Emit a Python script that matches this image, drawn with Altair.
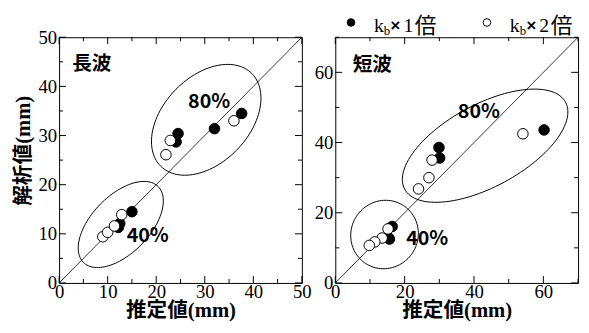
import altair as alt
import pandas as pd
import numpy as np

# ---------------- data ----------------
# Left panel (長波)
L_fill_x = [15.0, 12.5, 12.2, 24.5, 24.1, 32.0, 37.6]
L_fill_y = [14.5, 12.1, 11.3, 30.4, 28.7, 31.4, 34.5]
L_open_x = [9.0, 10.0, 11.4, 12.9, 22.0, 22.9, 36.0]
L_open_y = [9.4, 10.3, 11.6, 13.9, 26.1, 29.0, 33.0]

# Right panel (短波)
R_fill_x = [60.2, 29.9, 30.1, 16.4, 15.2, 15.6]
R_fill_y = [43.6, 38.6, 35.6, 16.1, 13.0, 12.5]
R_open_x = [54.1, 27.9, 27.0, 24.0, 15.2, 13.5, 11.4, 9.8]
R_open_y = [42.5, 35.0, 30.0, 26.8, 15.4, 12.8, 11.7, 10.7]

# ellipses: (cx, cy, semi-major, semi-minor, angle deg)
L_ellipses = [(12.7, 11.9, 10.9, 5.9, 45), (30.3, 33.2, 13.3, 8.8, 45)]
R_ellipses = [(14.2, 13.8, 9.9, 9.6, 45), (43.2, 39.1, 26.3, 11.75, 28)]

# annotation texts
L_labels = ["80%", "40%"]
L_label_x = [30.9, 18.25]
L_label_y = [36.8, 9.5]
R_labels = ["80%", "40%"]
R_label_x = [41.4, 26.5]
R_label_y = [48.6, 12.6]
L_name, L_name_x, L_name_y = "長波", 2.7, 44.5
R_name, R_name_x, R_name_y = "短波", 5.0, 62.2

# legend texts
LEG_K, LEG_SUB, LEG_TIMES = "k", "b", "×"
LEG_NUMS = ["1", "2"]
LEG_UNIT = "倍"

L_max, R_max = 50, 70
L_major = [0, 10, 20, 30, 40, 50]
L_minor = [5, 15, 25, 35, 45]
R_major = [0, 20, 40, 60]
R_minor = [10, 30, 50, 70]

W, H = 247, 250
SERIF = "Liberation Serif"
MIX = "Liberation Serif, Noto Sans CJK JP"
GOTH = "Noto Sans CJK JP"


def ellipse_df(params):
    rows = []
    t = np.linspace(0, 2 * np.pi, 121)
    for k, (cx, cy, a, b, ang) in enumerate(params):
        th = np.deg2rad(ang)
        xs = cx + a * np.cos(th) * np.cos(t) - b * np.sin(th) * np.sin(t)
        ys = cy + a * np.sin(th) * np.cos(t) + b * np.cos(th) * np.sin(t)
        for i, (x, y) in enumerate(zip(xs, ys)):
            rows.append({"id": k, "i": i, "x": x, "y": y})
    return pd.DataFrame(rows)


def panel(mx, major, minor, fx, fy, ox, oy, ells, labels, lx, ly,
          name, nx, ny, xtitle, ytitle, legend=False):
    xs = alt.Scale(domain=[0, mx], nice=False, zero=False)
    ys = alt.Scale(domain=[0, mx], nice=False, zero=False)
    axis_common = dict(labelFont=SERIF, labelFontSize=19, labelColor="black",
                       ticks=False, domain=False, grid=False, labelFlush=False,
                       labelOverlap=False, titleFont=MIX, titleFontSize=21,
                       titleFontWeight="bold", titleColor="black")
    xa = alt.Axis(values=major, title=xtitle, labelPadding=0, titlePadding=-2,
                  **axis_common)
    if ytitle is None:
        ya = alt.Axis(values=major, title=None, labelPadding=2.5, **axis_common)
    else:
        ya = alt.Axis(values=major, title=ytitle, labelPadding=2.5, titlePadding=5,
                      titleY=115, **axis_common)

    def X(f):
        return alt.X(f, scale=xs, axis=xa)

    def Y(f):
        return alt.Y(f, scale=ys, axis=ya)

    diag = alt.Chart(pd.DataFrame({"x": [0, mx], "y": [0, mx]})).mark_line(
        color="black", strokeWidth=0.8).encode(x=X("x:Q"), y=Y("y:Q"))

    ell = alt.Chart(ellipse_df(ells)).mark_line(color="black", strokeWidth=1).encode(
        x=X("x:Q"), y=Y("y:Q"), detail="id:N", order="i:Q")

    layers = [diag, ell]

    def tick_layers(vals, length):
        df = pd.DataFrame({"v": vals})
        base = alt.Chart(df).mark_rule(color="black", strokeWidth=1)
        return [
            base.encode(x=X("v:Q"), y=alt.value(H), y2=alt.value(H - length)),
            base.encode(x=X("v:Q"), y=alt.value(0), y2=alt.value(length)),
            base.encode(y=Y("v:Q"), x=alt.value(0), x2=alt.value(length)),
            base.encode(y=Y("v:Q"), x=alt.value(W), x2=alt.value(W - length)),
        ]

    layers += tick_layers(major, 7)
    layers += tick_layers(minor, 4)

    filled = alt.Chart(pd.DataFrame({"x": fx, "y": fy})).mark_point(
        shape="circle", filled=True, fill="black", stroke="black", strokeWidth=1,
        size=115, opacity=1).encode(x=X("x:Q"), y=Y("y:Q"))
    opened = alt.Chart(pd.DataFrame({"x": ox, "y": oy})).mark_point(
        shape="circle", filled=True, fill="white", stroke="black", strokeWidth=1,
        size=115, opacity=1).encode(x=X("x:Q"), y=Y("y:Q"))
    layers += [filled, opened]

    lab = alt.Chart(pd.DataFrame({"x": lx, "y": ly, "t": labels})).mark_text(
        font=GOTH, fontSize=20, fontWeight="bold", color="black",
        align="center", baseline="middle").encode(x=X("x:Q"), y=Y("y:Q"), text="t:N")
    nm = alt.Chart(pd.DataFrame({"x": [nx], "y": [ny], "t": [name]})).mark_text(
        font=GOTH, fontSize=20, fontWeight="bold", color="black",
        align="left", baseline="middle").encode(x=X("x:Q"), y=Y("y:Q"), text="t:N")
    layers += [lab, nm]

    if legend:
        one = pd.DataFrame({"a": [0]})

        def sym(x, fill):
            return alt.Chart(one).mark_point(shape="circle", filled=True, fill=fill,
                                             stroke="black", strokeWidth=1, size=60,
                                             opacity=1).encode(x=alt.value(x), y=alt.value(-15))

        def txt(x, y, s, size, font=SERIF, weight="normal"):
            return alt.Chart(one).mark_text(font=font, fontSize=size, fontWeight=weight,
                                            color="black", align="left",
                                            baseline="alphabetic").encode(
                x=alt.value(x), y=alt.value(y), text=alt.value(s))

        for x0, fill, num in [(16, "black", LEG_NUMS[0]), (154.3, "white", LEG_NUMS[1])]:
            dx = 23.3
            layers += [
                sym(x0, fill),
                txt(x0 + dx, -5, LEG_K, 20),
                txt(x0 + dx + 10, -2, LEG_SUB, 13),
                txt(x0 + dx + 17, -6, LEG_TIMES, 17, font="Liberation Sans", weight="bold"),
                txt(x0 + dx + 30, -5, num, 20),
                txt(x0 + dx + 41.5, -4, LEG_UNIT, 22, font=GOTH),
            ]

    return alt.layer(*layers).properties(width=W, height=H)


left = panel(L_max, L_major, L_minor, L_fill_x, L_fill_y, L_open_x, L_open_y,
             L_ellipses, L_labels, L_label_x, L_label_y, L_name, L_name_x, L_name_y,
             "推定値(mm)", "解析値(mm)")
right = panel(R_max, R_major, R_minor, R_fill_x, R_fill_y, R_open_x, R_open_y,
              R_ellipses, R_labels, R_label_x, R_label_y, R_name, R_name_x, R_name_y,
              "推定値(mm)", None, legend=True)

chart = alt.hconcat(left, right, spacing=34, bounds="flush").configure_view(
    stroke="black", strokeWidth=1).properties(
    padding={"left": 4, "top": 4, "right": 0, "bottom": 0}, background="white")

chart.save("out.html", embed_options={"renderer": "svg", "actions": False})
